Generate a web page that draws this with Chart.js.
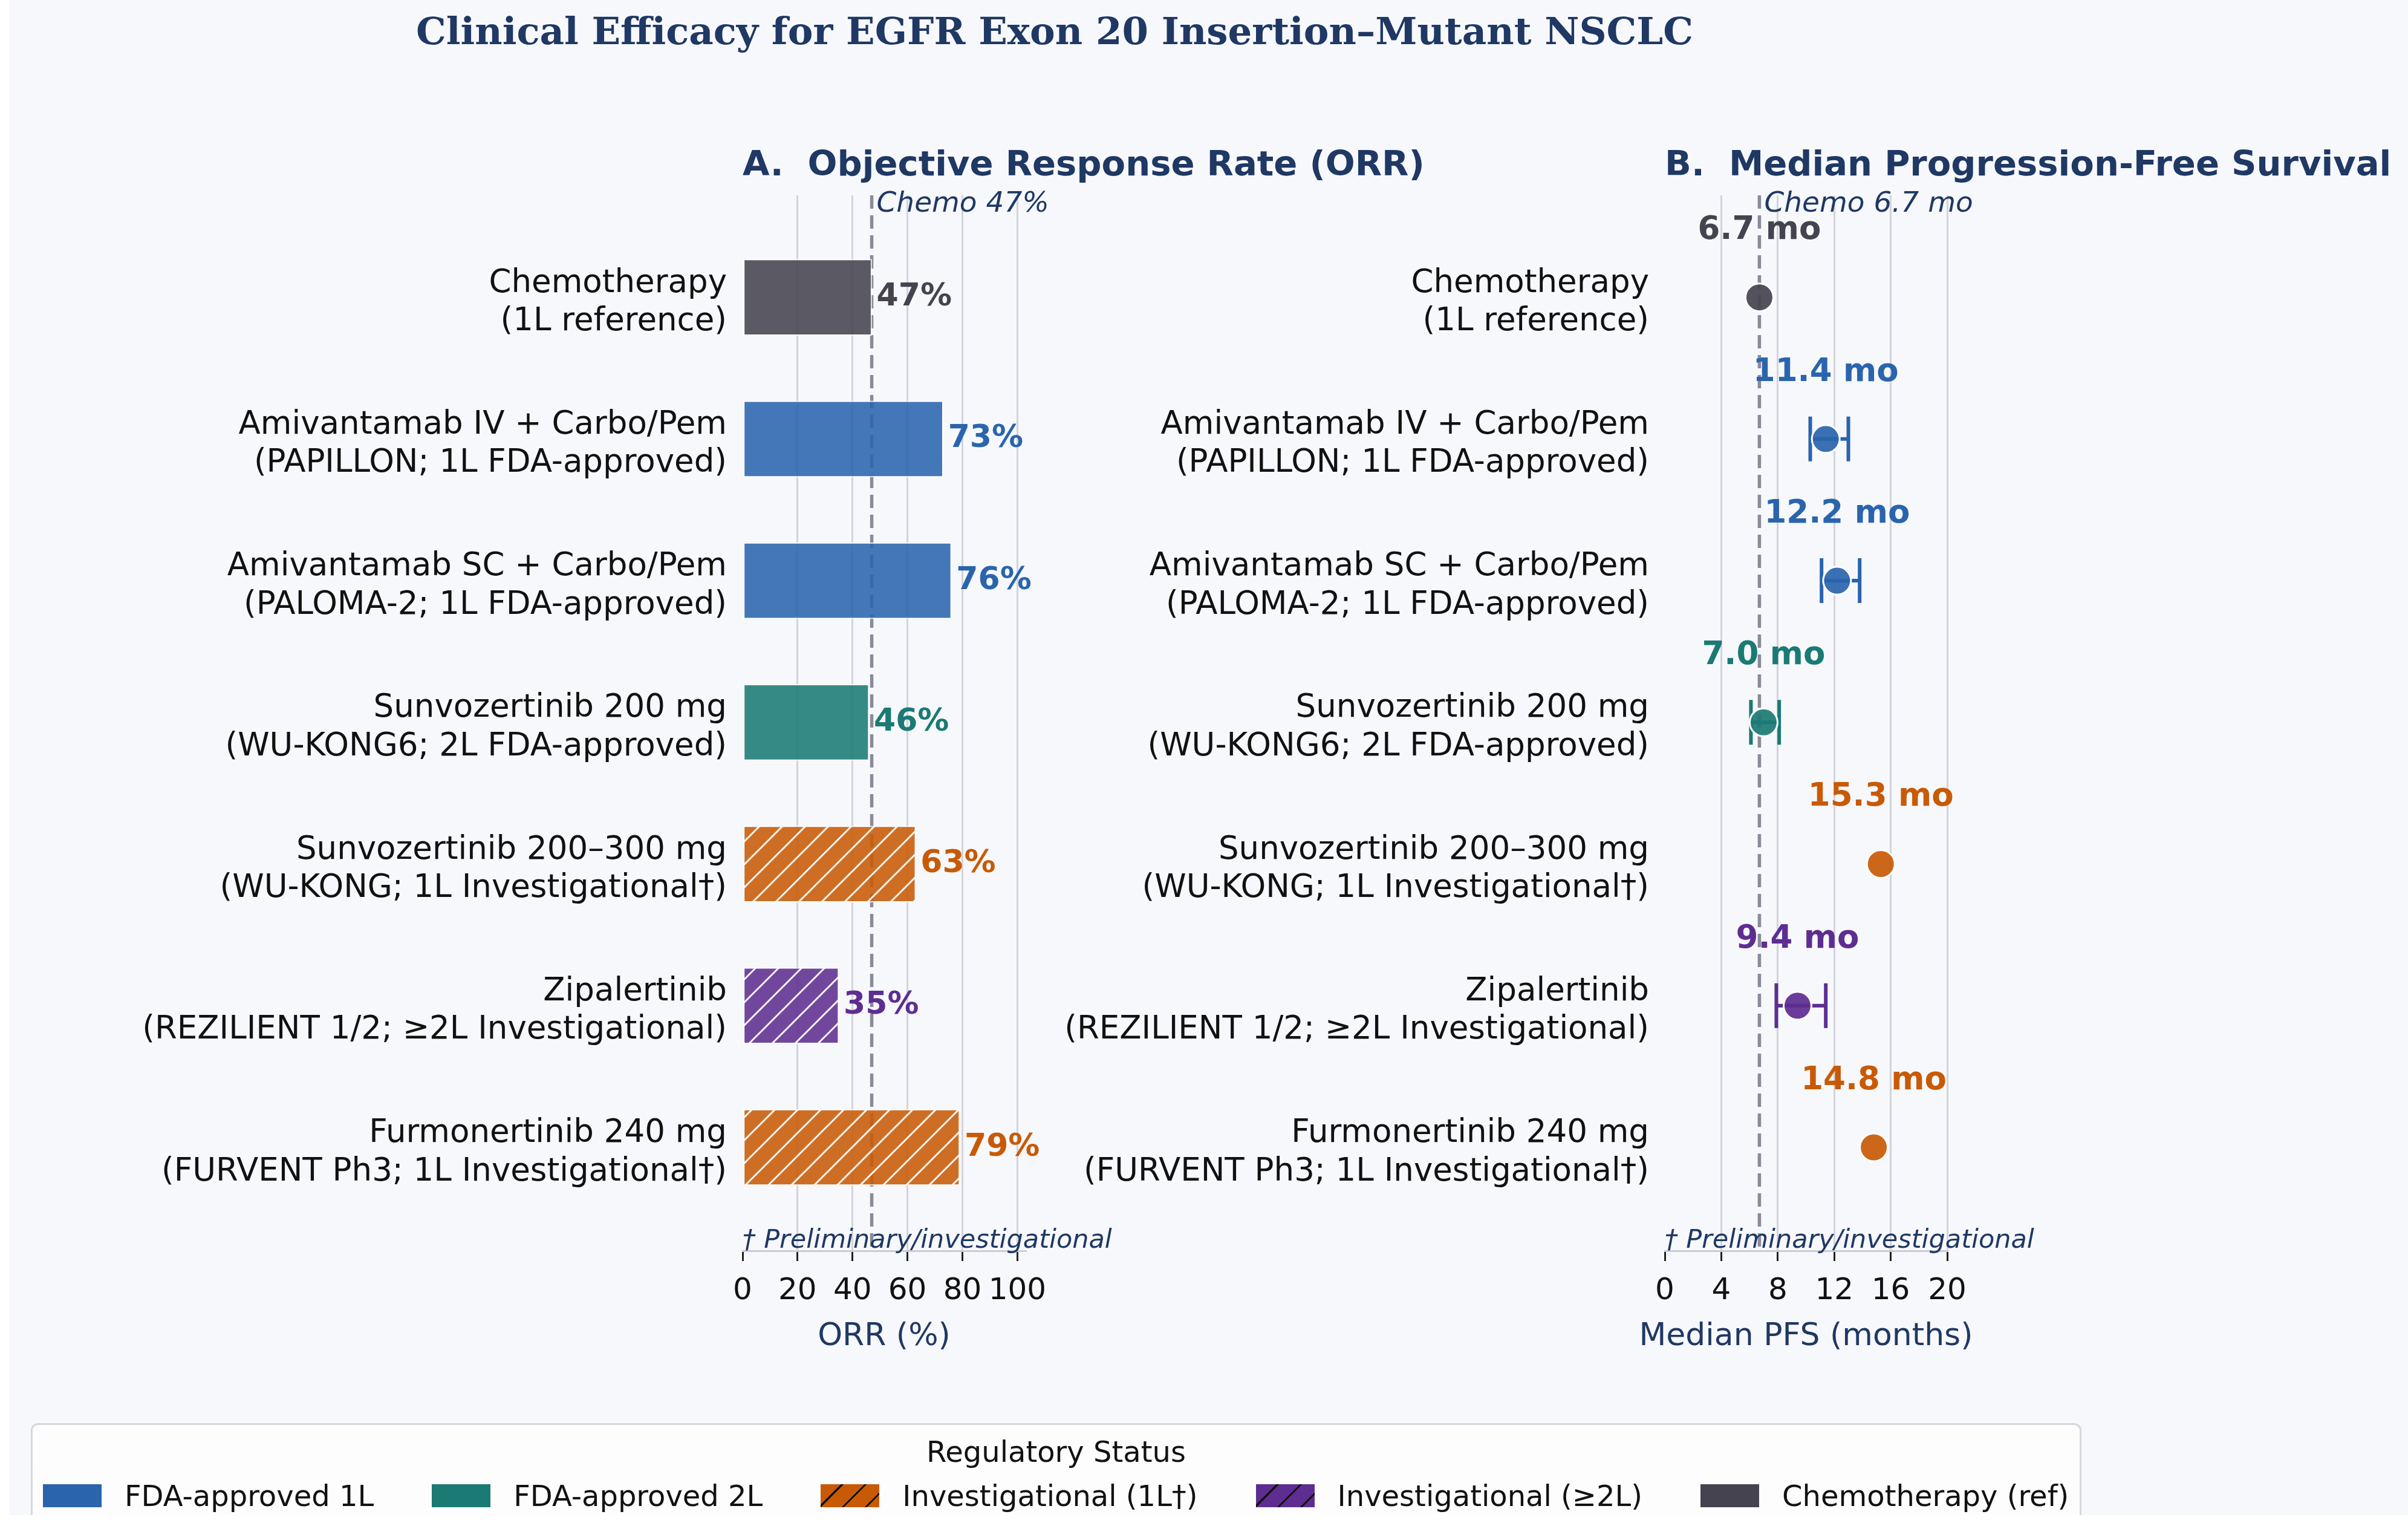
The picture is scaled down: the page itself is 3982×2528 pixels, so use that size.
<!DOCTYPE html>
<html>
<head>
<meta charset="utf-8">
<title>EGFR Exon 20 efficacy</title>
<script src="https://cdn.jsdelivr.net/npm/chart.js@4.4.1/dist/chart.umd.min.js"></script>
<style>
  html, body { margin: 0; padding: 0; width: 3982px; height: 2528px; overflow: hidden; background: #f7f8fc; }
  canvas { position: absolute; left: 0; top: 0; }
  .strip { position: absolute; background: #ffffff; z-index: 5; }
  #legend {
    position: absolute; left: 51px; top: 2353px; width: 3391px; height: 230px;
    box-sizing: border-box; background: #fdfdfd; border: 3px solid #d6d7dc; border-radius: 12px;
    font-family: 'DejaVu Sans', sans-serif; color: #111;
  }
  #legend .lg-title { position: absolute; left: 0; right: 0; top: 16px; text-align: center; font-size: 48px; line-height: 56px; }
  #legend .lg-row { position: absolute; left: 17px; top: 87px; height: 60px; display: flex; align-items: center; gap: 96px; }
  #legend .lg-item { display: flex; align-items: center; gap: 38px; font-size: 48px; white-space: nowrap; }
  #legend .sw { width: 97px; height: 38px; }
</style>
</head>
<body>
<canvas id="orr" width="3982" height="2528"></canvas>
<canvas id="pfs" width="3982" height="2528"></canvas>
<div id="legend">
  <div class="lg-title">Regulatory Status</div>
  <div class="lg-row" id="legendRow"></div>
</div>
<div class="strip" style="left:0;top:0;width:15px;height:2528px"></div>
<div class="strip" style="left:0;top:2505px;width:3982px;height:23px"></div>
<script>
// --- data ---
const drugLabels = [
  ['Chemotherapy', '(1L reference)'],
  ['Amivantamab IV + Carbo/Pem', '(PAPILLON; 1L FDA-approved)'],
  ['Amivantamab SC + Carbo/Pem', '(PALOMA-2; 1L FDA-approved)'],
  ['Sunvozertinib 200 mg', '(WU-KONG6; 2L FDA-approved)'],
  ['Sunvozertinib 200–300 mg', '(WU-KONG; 1L Investigational†)'],
  ['Zipalertinib', '(REZILIENT 1/2; ≥2L Investigational)'],
  ['Furmonertinib 240 mg', '(FURVENT Ph3; 1L Investigational†)']
];
const drugStatus = ['chemo', 'fda1L', 'fda1L', 'fda2L', 'inv1L', 'inv2L', 'inv1L'];
const orrValues = [47, 73, 76, 46, 63, 35, 79];
const pfsMedians = [6.7, 11.4, 12.2, 7.0, 15.3, 9.4, 14.8];
const pfsLow = [null, 10.3, 11.1, 6.1, null, 7.9, null];
const pfsHigh = [null, 13.0, 13.8, 8.1, null, 11.4, null];
const orrTicks = [0, 20, 40, 60, 80, 100];
const pfsTicks = [0, 4, 8, 12, 16, 20];
const legendStatus = ['fda1L', 'fda2L', 'inv1L', 'inv2L', 'chemo'];
const legendLabels = ['FDA-approved 1L', 'FDA-approved 2L', 'Investigational (1L†)', 'Investigational (≥2L)', 'Chemotherapy (ref)'];

// --- styling ---
const statusColors = { fda1L: '#2a64ad', fda2L: '#1b7a74', inv1L: '#c85a06', inv2L: '#5e2d91', chemo: '#45434f' };
const hatched = { inv1L: true, inv2L: true };
const navy = '#1f3864';
const font = "'DejaVu Sans', sans-serif";
Chart.defaults.font.family = font;

function withAlpha(hex, a) {
  const n = parseInt(hex.slice(1), 16);
  return `rgba(${n >> 16}, ${(n >> 8) & 255}, ${n & 255}, ${a})`;
}

// white "///" hatch over the series colour
function hatchFill(hex) {
  const s = 38;
  const tile = document.createElement('canvas');
  tile.width = tile.height = s;
  const c = tile.getContext('2d');
  c.fillStyle = withAlpha(hex, 0.88);
  c.fillRect(0, 0, s, s);
  c.strokeStyle = 'rgba(255,255,255,0.92)';
  c.lineWidth = 3;
  c.beginPath();
  c.moveTo(-4, s + 4); c.lineTo(s + 4, -4);
  c.moveTo(-4, 4); c.lineTo(4, -4);
  c.moveTo(s - 4, s + 4); c.lineTo(s + 4, s - 4);
  c.stroke();
  return c.createPattern(tile, 'repeat');
}

function barFill(status) {
  return hatched[status] ? hatchFill(statusColors[status]) : withAlpha(statusColors[status], 0.88);
}

// common frame: both panels share the same rows
const plotTop = 323, plotBottom = 2068, xAxisHeight = 168;
const rowMin = -0.72, rowMax = 6.73;

function rowAxis(leftEdge) {
  return {
    type: 'linear', reverse: true, min: rowMin, max: rowMax, offset: false,
    afterBuildTicks: s => { s.ticks = drugLabels.map((_, i) => ({ value: i })); },
    afterFit: s => { s.width = leftEdge; },
    grid: { display: false, drawTicks: false, offset: false },
    border: { display: false },
    ticks: { callback: v => drugLabels[v], color: '#111', font: { size: 53 }, padding: 26, labelOffset: 9, autoSkip: false }
  };
}

function valueAxis(min, max, ticks) {
  return {
    type: 'linear', min: min, max: max,
    afterBuildTicks: s => { s.ticks = ticks.map(v => ({ value: v })); },
    afterFit: s => { s.height = xAxisHeight; },
    grid: {
      color: c => (c.tick && c.tick.value === 0 ? 'rgba(0,0,0,0)' : '#d3d4db'),
      lineWidth: 3, tickColor: '#222', tickLength: 17, tickWidth: 3
    },
    border: { color: '#cbccd2', width: 3 },
    ticks: { color: '#111', font: { size: 50 }, padding: 20, maxRotation: 0, autoSkip: false }
  };
}

// dashed chemo reference line
function drawReference(chart, value, note) {
  const { ctx, chartArea } = chart;
  const x = chart.scales.x.getPixelForValue(value);
  ctx.save();
  ctx.strokeStyle = '#8a8a98';
  ctx.lineWidth = 5.5;
  ctx.setLineDash([22, 11]);
  ctx.beginPath();
  ctx.moveTo(x, chartArea.top);
  ctx.lineTo(x, chartArea.bottom);
  ctx.stroke();
  ctx.restore();
  chart.$refNote = { x: x + 8, text: note };
}

// panel title, reference note, footnote and x-axis title
function drawPanelText(chart, title, axisTitle) {
  const { ctx, chartArea } = chart;
  ctx.save();
  ctx.fillStyle = navy;
  ctx.textAlign = 'left';
  ctx.textBaseline = 'alphabetic';
  ctx.font = `bold 57.6px ${font}`;
  ctx.fillText(title, chartArea.left, 290);
  ctx.font = `italic 47px ${font}`;
  ctx.fillText(chart.$refNote.text, chart.$refNote.x, 350);
  ctx.font = `italic 43px ${font}`;
  ctx.fillText('† Preliminary/investigational', chartArea.left, chartArea.bottom - 5);
  ctx.font = `52px ${font}`;
  ctx.textAlign = 'center';
  ctx.textBaseline = 'middle';
  ctx.fillText(axisTitle, (chartArea.left + chartArea.right) / 2, chartArea.bottom + 142);
  ctx.restore();
}

// --- Panel A: ORR bars ---
const chemoIdx = drugStatus.indexOf('chemo');
const orrPlugin = {
  id: 'orrExtras',
  beforeDatasetsDraw(chart) {
    drawReference(chart, orrValues[chemoIdx], `Chemo ${orrValues[chemoIdx]}%`);
  },
  afterDatasetsDraw(chart) {
    const { ctx } = chart;
    const meta = chart.getDatasetMeta(0);
    ctx.save();
    ctx.font = `bold 52px ${font}`;
    ctx.textAlign = 'left';
    ctx.textBaseline = 'middle';
    meta.data.forEach((bar, i) => {
      ctx.fillStyle = statusColors[drugStatus[i]];
      ctx.fillText(`${orrValues[i]}%`, bar.x + 8, bar.y);
    });
    ctx.restore();
  },
  afterDraw(chart) {
    drawPanelText(chart, 'A.  Objective Response Rate (ORR)', 'ORR (%)');
    const { ctx } = chart;
    ctx.save();
    ctx.fillStyle = navy;
    ctx.textAlign = 'center';
    ctx.textBaseline = 'alphabetic';
    ctx.font = "bold 62.5px 'DejaVu Serif', serif";
    ctx.fillText('Clinical Efficacy for EGFR Exon 20 Insertion–Mutant NSCLC', 1744, 73);
    ctx.restore();
  }
};

new Chart(document.getElementById('orr'), {
  type: 'bar',
  data: {
    datasets: [{
      data: orrValues.map((v, i) => ({ x: v, y: i })),
      backgroundColor: drugStatus.map(barFill),
      borderColor: 'rgba(255,255,255,0.8)',
      borderWidth: 2,
      borderSkipped: false,
      barThickness: 126
    }]
  },
  options: {
    indexAxis: 'y',
    responsive: false,
    animation: false,
    devicePixelRatio: 1,
    layout: { padding: { left: 0, top: plotTop, right: 3982 - 1696, bottom: 2528 - plotBottom - xAxisHeight } },
    plugins: { legend: { display: false }, tooltip: { enabled: false } },
    scales: {
      x: valueAxis(0, 103, orrTicks),
      y: rowAxis(1228)
    }
  },
  plugins: [orrPlugin]
});

// --- Panel B: median PFS dots with CI whiskers ---
const pfsPlugin = {
  id: 'pfsExtras',
  beforeDatasetsDraw(chart) {
    const ref = pfsMedians[chemoIdx];
    drawReference(chart, ref, `Chemo ${ref.toFixed(1)} mo`);
    const { ctx, scales } = chart;
    ctx.save();
    ctx.lineWidth = 6;
    pfsMedians.forEach((m, i) => {
      if (pfsLow[i] == null) return;
      const y = scales.y.getPixelForValue(i);
      const x1 = scales.x.getPixelForValue(pfsLow[i]);
      const x2 = scales.x.getPixelForValue(pfsHigh[i]);
      ctx.strokeStyle = statusColors[drugStatus[i]];
      ctx.beginPath();
      ctx.moveTo(x1, y); ctx.lineTo(x2, y);
      ctx.moveTo(x1, y - 37); ctx.lineTo(x1, y + 37);
      ctx.moveTo(x2, y - 37); ctx.lineTo(x2, y + 37);
      ctx.stroke();
    });
    ctx.restore();
  },
  afterDatasetsDraw(chart) {
    const { ctx } = chart;
    const meta = chart.getDatasetMeta(0);
    ctx.save();
    ctx.font = `bold 53px ${font}`;
    ctx.textAlign = 'center';
    ctx.textBaseline = 'middle';
    meta.data.forEach((pt, i) => {
      ctx.fillStyle = statusColors[drugStatus[i]];
      ctx.fillText(`${pfsMedians[i].toFixed(1)} mo`, pt.x, pt.y - 110);
    });
    ctx.restore();
  },
  afterDraw(chart) {
    drawPanelText(chart, 'B.  Median Progression-Free Survival', 'Median PFS (months)');
  }
};

new Chart(document.getElementById('pfs'), {
  type: 'scatter',
  data: {
    datasets: [{
      data: pfsMedians.map((v, i) => ({ x: v, y: i })),
      pointRadius: 23,
      pointBackgroundColor: drugStatus.map(s => withAlpha(statusColors[s], 0.92)),
      pointBorderColor: '#ffffff',
      pointBorderWidth: 3
    }]
  },
  options: {
    responsive: false,
    animation: false,
    devicePixelRatio: 1,
    layout: { padding: { left: 0, top: plotTop, right: 3982 - 3220, bottom: 2528 - plotBottom - xAxisHeight } },
    plugins: { legend: { display: false }, tooltip: { enabled: false } },
    scales: {
      x: valueAxis(0, 20, pfsTicks),
      y: rowAxis(2753)
    }
  },
  plugins: [pfsPlugin]
});

// --- legend ---
const legendRow = document.getElementById('legendRow');
legendLabels.forEach((label, i) => {
  const status = legendStatus[i];
  const col = statusColors[status];
  const item = document.createElement('div');
  item.className = 'lg-item';
  const sw = document.createElement('span');
  sw.className = 'sw';
  sw.style.background = hatched[status]
    ? `repeating-linear-gradient(135deg, ${col} 0px, ${col} 24px, #111 24px, #111 27px)`
    : col;
  const txt = document.createElement('span');
  txt.textContent = label;
  item.appendChild(sw);
  item.appendChild(txt);
  legendRow.appendChild(item);
});
</script>
</body>
</html>
